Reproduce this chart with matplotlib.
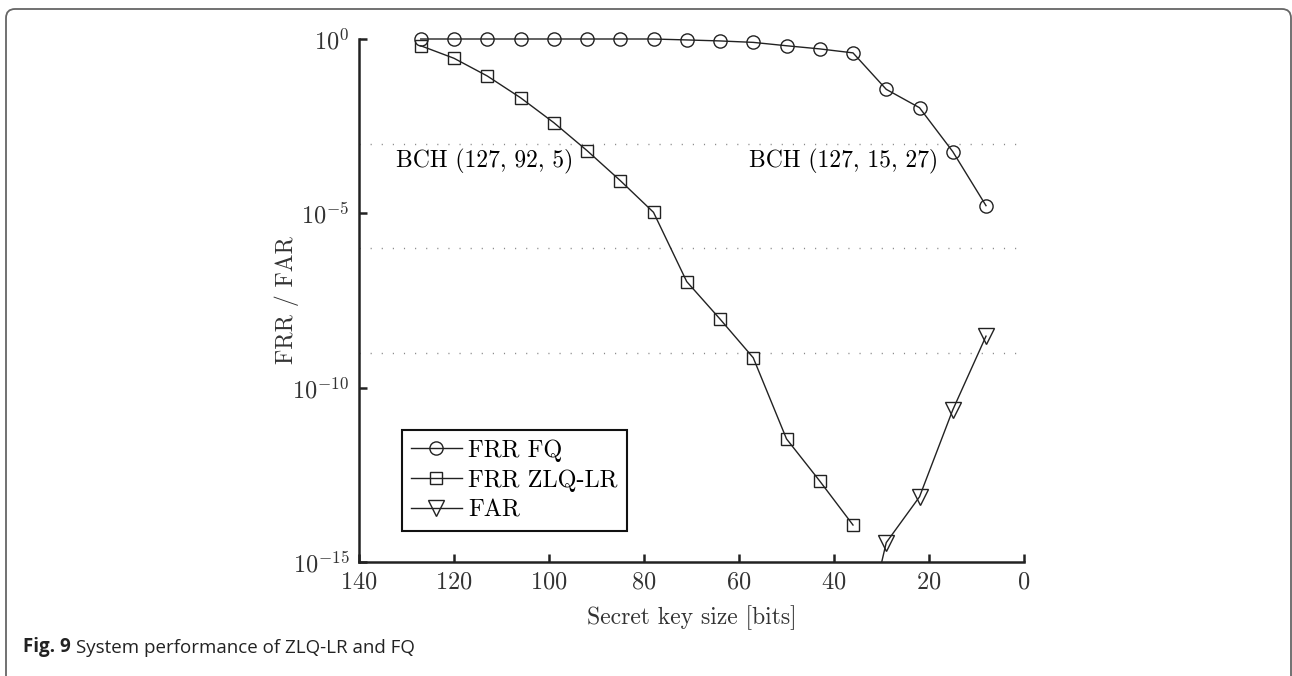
import numpy as np
import matplotlib
matplotlib.use('Agg')
import matplotlib.pyplot as plt
from matplotlib.patches import FancyBboxPatch
from matplotlib.ticker import NullLocator

# Police type LaTeX (Computer Modern)
plt.rcParams['font.family'] = 'serif'
plt.rcParams['font.serif'] = ['cmr10']
plt.rcParams['mathtext.fontset'] = 'cm'
plt.rcParams['axes.formatter.use_mathtext'] = True
plt.rcParams['axes.unicode_minus'] = False

# Données
key_fq = [127, 120, 113, 106, 99, 92, 85, 78, 71, 64, 57, 50, 43, 36, 29, 22, 15, 8]
frr_fq = [1.0, 1.0, 1.0, 1.0, 1.0, 1.0, 1.0, 1.0, 0.94, 0.88, 0.80, 0.64, 0.52, 0.40,
          3.6e-2, 1.07e-2, 5.9e-4, 1.66e-5]

key_zlq = [127, 120, 113, 106, 99, 92, 85, 78, 71, 64, 57, 50, 43, 36]
frr_zlq = [0.64, 0.28, 8.7e-2, 2.07e-2, 4.0e-3, 6.3e-4, 8.7e-5, 1.07e-5, 1.1e-7,
           9.3e-9, 7.2e-10, 3.4e-12, 2.1e-13, 1.15e-14]

key_far = [36, 29, 22, 15, 8]
far = [3e-19, 3.6e-15, 7.4e-14, 2.3e-11, 3.0e-9]

bch_levels = [1e-3, 1e-6, 1e-9]
x_ticks = [140, 120, 100, 80, 60, 40, 20, 0]
y_ticks = [1e0, 1e-5, 1e-10, 1e-15]

fig = plt.figure(figsize=(12.92, 6.76), dpi=100)
ax = fig.add_axes([359/1292, 1-562/676, 665/1292, 523/676])

for lvl in bch_levels:
    ax.axhline(lvl, color='#888888', lw=1.0, ls=(0, (0.8, 7.2)), zorder=1)

ax.plot(key_fq, frr_fq, '-', color='#222222', lw=1.0, marker='o', ms=9.5,
        mfc='none', mec='#222222', mew=1.0, label='FRR FQ', clip_on=False, zorder=3)
ax.plot(key_zlq, frr_zlq, '-', color='#222222', lw=1.0, marker='s', ms=8.5,
        mfc='none', mec='#222222', mew=1.0, label='FRR ZLQ-LR', clip_on=False, zorder=3)
ax.plot(key_far, far, '-', color='#222222', lw=1.0, marker='v', ms=11,
        mfc='none', mec='#222222', mew=1.0, label='FAR', zorder=3)

ax.text(132.2, 10**-3.5, 'BCH (127, 92, 5)', fontsize=17, ha='left', va='center')
ax.text(57.9, 10**-3.5, 'BCH (127, 15, 27)', fontsize=17, ha='left', va='center')

ax.set_yscale('log')
ax.set_xlim(140, 0)
ax.set_ylim(1e-15, 1e0)
ax.set_xticks(x_ticks)
ax.set_yticks(y_ticks)
ax.yaxis.set_minor_locator(NullLocator())
ax.tick_params(direction='in', length=6, width=1.8, labelsize=17.5, color='#222222',
               labelcolor='#333333', pad=7)

for s in ['top', 'right']:
    ax.spines[s].set_visible(False)
for s in ['left', 'bottom']:
    ax.spines[s].set_linewidth(1.8)
    ax.spines[s].set_color('#222222')

ax.set_xlabel('Secret key size [bits]', fontsize=17, color='#333333', labelpad=8)
ax.set_ylabel('FRR / FAR', fontsize=17, color='#333333')
ax.yaxis.set_label_coords(-0.09, 0.5)

leg = ax.legend(loc='lower left', bbox_to_anchor=(0.064, 0.059), fontsize=17.5,
                fancybox=False, framealpha=1, edgecolor='#111111',
                handlelength=2.1, handletextpad=0.25, borderpad=0.38,
                labelspacing=0.32, borderaxespad=0)
leg.get_frame().set_linewidth(1.5)

# Cadre de la page et légende de la figure
frame = FancyBboxPatch((6/1292, -0.1), 1285/1292, 1.1 - 9/676,
                       boxstyle='round,pad=0,rounding_size=0.007',
                       mutation_aspect=1292/676, transform=fig.transFigure,
                       fc='none', ec='#666666', lw=1.3)
fig.patches.append(frame)

t1 = fig.text(23/1292, 1-652/676, 'Fig. 9', family='Open Sans', weight='bold',
              fontsize=13.5, color='#222222', ha='left', va='baseline')
ax.annotate('System performance of ZLQ-LR and FQ', xy=(1, 0), xycoords=t1,
            xytext=(4, 0), textcoords='offset points', family='Open Sans',
            fontsize=13.5, color='#222222', ha='left', va='bottom')

fig.savefig('out.png', dpi=100)
